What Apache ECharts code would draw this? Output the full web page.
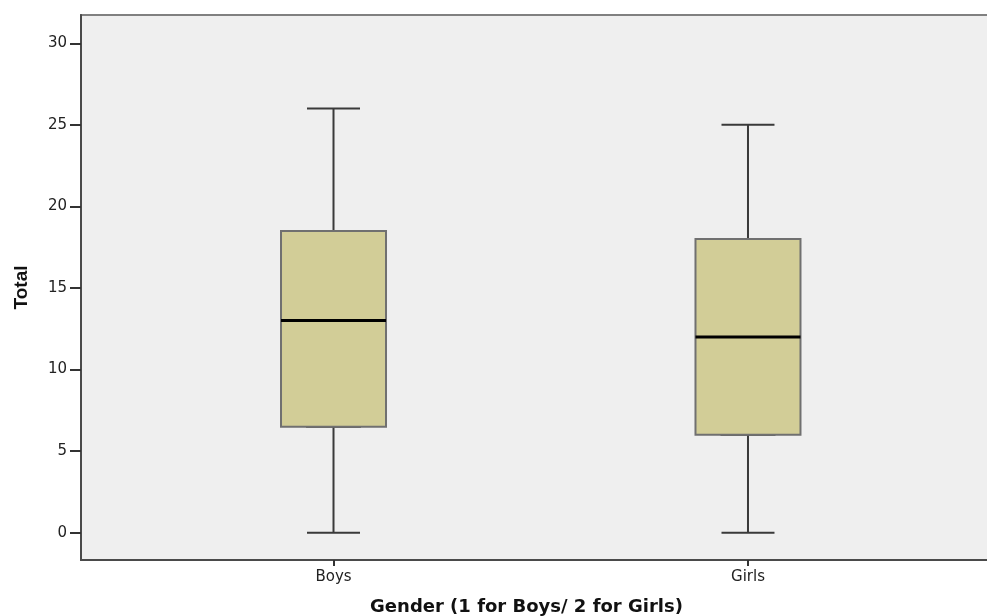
<!DOCTYPE html>
<html>
<head>
<meta charset="utf-8">
<script src="https://cdn.jsdelivr.net/npm/echarts@6/dist/echarts.min.js"></script>
<style>
html,body{margin:0;padding:0;background:#fff;}
#chart{width:987px;height:616px;}
</style>
</head>
<body>
<div id="chart"></div>
<script>
// ---- data ----
const categories = ['Boys', 'Girls'];
const positions = [1, 2];
const mins = [0, 0];
const q1s = [6.5, 6];
const medians = [13, 12];
const q3s = [18.5, 18];
const maxs = [26, 25];
const yTicks = [0, 5, 10, 15, 20, 25, 30];
const xTitle = 'Gender (1 for Boys/ 2 for Girls)';
const yTitle = 'Total';

// ---- build ----
const whiskerData = positions.map((p, i) => [p, mins[i], q1s[i], medians[i], q3s[i], maxs[i]]);
const boxData = positions.map((p, i) => [p, q1s[i], q1s[i], medians[i], q3s[i], q3s[i]]);
const medianData = positions.map((p, i) => [p, medians[i], medians[i], medians[i], medians[i], medians[i]]);

const X_MIN = 0.3908, X_MAX = 2.5887;
const Y_MIN = -1.674, Y_MAX = 31.735;
const fill = '#D2CD97';

function hiddenX() {
  return { type: 'value', min: X_MIN, max: X_MAX, show: false, splitLine: { show: false } };
}

const chart = echarts.init(document.getElementById('chart'), null, { renderer: 'canvas' });
chart.setOption({
  animation: false,
  backgroundColor: '#ffffff',
  grid: {
    left: 81, top: 15, width: 911, height: 545,
    outerBoundsMode: 'none',
    show: true, backgroundColor: '#EFEFEF', borderColor: '#808080', borderWidth: 2,
    containLabel: false
  },
  xAxis: [
    {
      type: 'value', min: X_MIN, max: X_MAX,
      name: xTitle, nameLocation: 'middle', nameGap: 38,
      nameTextStyle: { fontFamily: 'DejaVu Sans', fontWeight: 'bold', fontSize: 18, color: '#111', padding: [0, 20, 0, 0] },
      axisLine: { show: true, onZero: false, lineStyle: { color: '#4a4a4a', width: 2 } },
      axisTick: { show: true, customValues: positions, length: 6, lineStyle: { color: '#333', width: 2 } },
      axisLabel: {
        show: true, customValues: positions, margin: 10,
        formatter: v => categories[positions.indexOf(Math.round(v))] || '',
        fontFamily: 'DejaVu Sans', fontSize: 15, color: '#222'
      },
      splitLine: { show: false }
    },
    hiddenX(),
    hiddenX()
  ],
  yAxis: {
    type: 'value', min: Y_MIN, max: Y_MAX,
    name: yTitle, nameLocation: 'middle', nameGap: 50, nameRotate: 90,
    nameTextStyle: { fontFamily: 'Liberation Sans', fontWeight: 'bold', fontSize: 19, color: '#111' },
    axisLine: { show: true, onZero: false, lineStyle: { color: '#4a4a4a', width: 2 } },
    axisTick: { show: true, customValues: yTicks, length: 11, lineStyle: { color: '#333', width: 2 } },
    axisLabel: { show: true, customValues: yTicks, margin: 14, fontFamily: 'DejaVu Sans', fontSize: 15, color: '#222' },
    splitLine: { show: false }
  },
  series: [
    {
      type: 'boxplot', xAxisIndex: 0, yAxisIndex: 0,
      data: whiskerData, boxWidth: [53, 53],
      itemStyle: { color: fill, borderColor: '#3a3a3a', borderWidth: 2 },
      emphasis: { disabled: true }, silent: true
    },
    {
      type: 'boxplot', xAxisIndex: 1, yAxisIndex: 0,
      data: boxData, boxWidth: [105, 105],
      itemStyle: { color: fill, borderColor: '#707070', borderWidth: 2 },
      emphasis: { disabled: true }, silent: true
    },
    {
      type: 'boxplot', xAxisIndex: 2, yAxisIndex: 0,
      data: medianData, boxWidth: [105, 105],
      itemStyle: { color: fill, borderColor: '#000000', borderWidth: 3 },
      emphasis: { disabled: true }, silent: true
    }
  ]
});
</script>
</body>
</html>
